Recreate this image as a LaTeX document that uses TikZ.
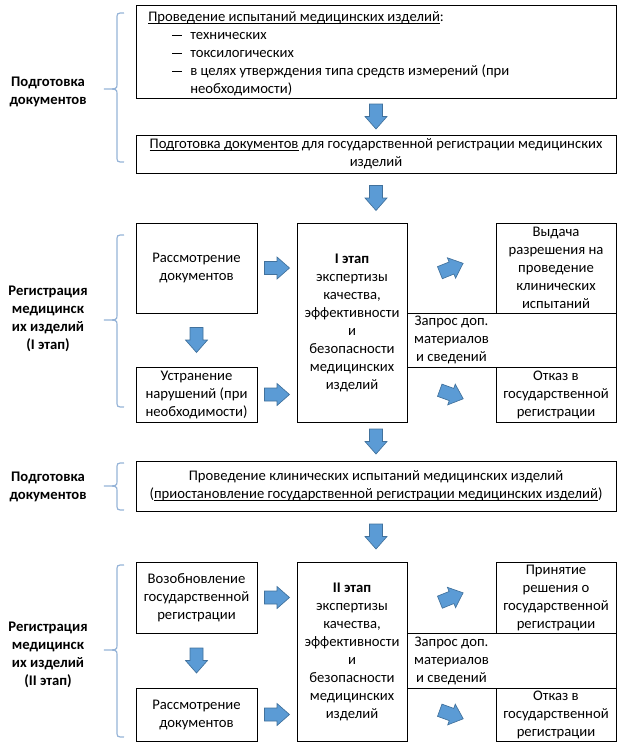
\documentclass[tikz,border=0pt]{standalone}
\usepackage{fontspec}
\setmainfont{Carlito}
\usetikzlibrary{calc}
\definecolor{arrowfill}{HTML}{5B9BD5}
\definecolor{arrowedge}{HTML}{41719C}
\definecolor{bracecol}{HTML}{95B3D7}
\newcommand\myul[1]{\setbox0\hbox{#1}\rlap{\rule[-1.6pt]{\wd0}{0.55pt}}\box0\relax}
\newcommand\mydash{\makebox[13.5pt][l]{\rule[2.9pt]{7.5pt}{0.55pt}}}
\tikzset{
  barrow/.pic={\filldraw[fill=arrowfill, draw=arrowedge, line width=0.5pt]
    (-12.5,-6.5) -- (0,-6.5) -- (0,-11) -- (12.5,0) -- (0,11) -- (0,6.5) -- (-12.5,6.5) -- cycle;},
  txt/.style={font=\fontsize{11pt}{13.5pt}\selectfont, inner sep=0pt, align=center},
  lbl/.style={font=\fontsize{11pt}{13.5pt}\selectfont\bfseries, inner sep=0pt, align=center},
  box/.style={draw, line width=0.75pt, txt},
  brc/.style={draw=bracecol, line width=0.9pt},
}
\newcommand\bracedraw[3]{% top, mid, bottom
  \draw[brc] (124,#1) .. controls (117,#1) .. (117,#1+6) -- (117,#2-5)
    .. controls (117,#2) .. (104,#2) .. controls (117,#2) .. (117,#2+5)
    -- (117,#3-6) .. controls (117,#3) .. (124,#3);}
\begin{document}
\begin{tikzpicture}[x=0.75pt,y=-0.75pt]
\useasboundingbox (0,0) rectangle (624,747);
% ---- section 1
\node[box, minimum width=480*0.75pt, minimum height=93*0.75pt] (top) at (376,51.5) {};
\node[txt, anchor=north west, align=left] (toptext) at (148,11)
  {\myul{Проведение испытаний медицинских изделий}:\\
   \hspace*{18pt}\mydash технических\\
   \hspace*{18pt}\mydash токсилогических\\
   \hspace*{18pt}\mydash в целях утверждения типа средств измерений (при\\
   \hspace*{31.5pt}необходимости)};
\node[box, minimum width=480*0.75pt, minimum height=38*0.75pt] (docs) at (376,154)
  {\myul{Подготовка документов} для государственной регистрации медицинских\\изделий};
\node[lbl] (L1) at (48,92) {Подготовка\\документов};
\bracedraw{13}{89}{162}
% ---- section 2
\node[box, minimum width=121*0.75pt, minimum height=90*0.75pt] (A1) at (196.5,268) {Рассмотрение\\документов};
\node[box, minimum width=121*0.75pt, minimum height=55*0.75pt] (A2) at (196.5,394.5) {Устранение\\нарушений (при\\необходимости)};
\node[box, minimum width=110*0.75pt, minimum height=199*0.75pt] (C1) at (352,322.5)
  {\textbf{I этап}\\экспертизы\\качества,\\эффективности\\и\\безопасности\\медицинских\\изделий};
\node[box, minimum width=120*0.75pt, minimum height=90*0.75pt] (R1) at (556,268) {Выдача\\разрешения на\\проведение\\клинических\\испытаний};
\node[box, minimum width=209*0.75pt, minimum height=54*0.75pt] (Q1) at (511.5,340) {};
\node[txt] (Q1t) at ($(C1.east |- Q1.center)!0.5!(R1.west |- Q1.center)$) {Запрос доп.\\материалов\\и сведений};
\node[box, minimum width=120*0.75pt, minimum height=55*0.75pt] (R2) at (556,394.5) {Отказ в\\государственной\\регистрации};
\node[lbl] (L2) at (48,319) {Регистрация\\медицинск\\их изделий\\(I этап)};
\bracedraw{235}{320}{407}
% ---- section 3
\node[box, minimum width=480*0.75pt, minimum height=50*0.75pt] (clin) at (376,486)
  {Проведение клинических испытаний медицинских изделий\\(\myul{приостановление государственной регистрации медицинских изделий})};
\node[lbl] (L3) at (48,487) {Подготовка\\документов};
\bracedraw{463}{486}{510}
% ---- section 4
\node[box, minimum width=121*0.75pt, minimum height=71*0.75pt] (B1) at (196.5,597.5) {Возобновление\\государственной\\регистрации};
\node[box, minimum width=121*0.75pt, minimum height=53*0.75pt] (B2) at (196.5,714.5) {Рассмотрение\\документов};
\node[box, minimum width=110*0.75pt, minimum height=179*0.75pt] (C2) at (352,651.5)
  {\textbf{II этап}\\экспертизы\\качества,\\эффективности\\и\\безопасности\\медицинских\\изделий};
\node[box, minimum width=120*0.75pt, minimum height=71*0.75pt] (R3) at (556,597.5) {Принятие\\решения о\\государственной\\регистрации};
\node[box, minimum width=209*0.75pt, minimum height=55*0.75pt] (Q2) at (511.5,660.5) {};
\node[txt] (Q2t) at ($(C2.east |- Q2.center)!0.5!(R3.west |- Q2.center)$) {Запрос доп.\\материалов\\и сведений};
\node[box, minimum width=120*0.75pt, minimum height=53*0.75pt] (R4) at (556,714.5) {Отказ в\\государственной\\регистрации};
\node[lbl] (L4) at (48,655) {Регистрация\\медицинск\\их изделий\\(II этап)};
\bracedraw{565}{650}{737}
% ---- block arrows
\pic[rotate=-90] at ($(top.south)!0.5!(docs.north)$) {barrow};
\pic[rotate=-90] at ($(docs.south)!0.5!(docs.south |- C1.north)$) {barrow};
\pic[rotate=-90] at ($(A1.south)!0.5!(A2.north)$) {barrow};
\pic at ($(A1.east)!0.5!(A1.east -| C1.west)$) {barrow};
\pic at ($(A2.east)!0.5!(A2.east -| C1.west)$) {barrow};
\pic[rotate=22] at ($(R1.west -| C1.east)!0.5!(R1.west)$) {barrow};
\pic[rotate=-20] at ($(R2.west -| C1.east)!0.5!(R2.west)$) {barrow};
\pic[rotate=-90] at ($(docs.south |- C1.south)!0.5!(clin.north)$) {barrow};
\pic[rotate=-90] at ($(clin.south)!0.5!(clin.south |- C2.north)$) {barrow};
\pic[rotate=-90] at ($(B1.south)!0.5!(B2.north)$) {barrow};
\pic at ($(B1.east)!0.5!(B1.east -| C2.west)$) {barrow};
\pic at ($(B2.east)!0.5!(B2.east -| C2.west)$) {barrow};
\pic[rotate=22] at ($(R3.west -| C2.east)!0.5!(R3.west)$) {barrow};
\pic[rotate=-20] at ($(R4.west -| C2.east)!0.5!(R4.west)$) {barrow};
\end{tikzpicture}
\end{document}
